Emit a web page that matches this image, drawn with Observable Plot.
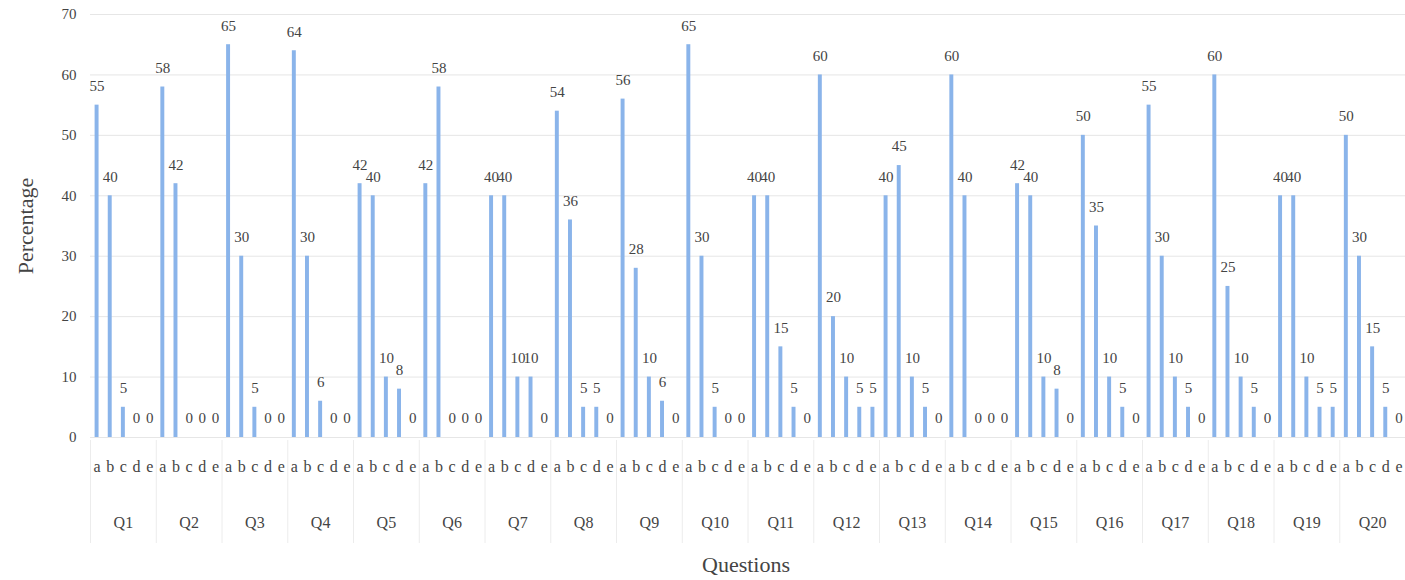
<!DOCTYPE html>
<html>
<head>
<meta charset="utf-8">
<script src="https://cdn.jsdelivr.net/npm/d3@7"></script>
<script src="https://cdn.jsdelivr.net/npm/@observablehq/plot@0.6"></script>
<style>
  html, body { margin: 0; padding: 0; background: #fff; overflow: hidden; }
  #chart { width: 1405px; height: 580px; }
  #chart svg { font-family: 'Liberation Serif', 'Times New Roman', serif; }
</style>
</head>
<body>
<div id="chart"></div>
<script>
const questions = ["Q1","Q2","Q3","Q4","Q5","Q6","Q7","Q8","Q9","Q10","Q11","Q12","Q13","Q14","Q15","Q16","Q17","Q18","Q19","Q20"];
const options = ["a","b","c","d","e"];
const valuesA = [55,58,65,64,42,42,40,54,56,65,40,60,40,60,42,50,55,60,40,50];
const valuesB = [40,42,30,30,40,58,40,36,28,30,40,20,45,40,40,35,30,25,40,30];
const valuesC = [5,0,5,6,10,0,10,5,10,5,15,10,10,0,10,10,10,10,10,15];
const valuesD = [0,0,0,0,8,0,10,5,6,0,5,5,5,0,8,5,5,5,5,5];
const valuesE = [0,0,0,0,0,0,0,0,0,0,0,5,0,0,0,0,0,0,5,0];
const yTicks = [0,10,20,30,40,50,60,70];

const series = [valuesA, valuesB, valuesC, valuesD, valuesE];
const key = (q, o) => q + "·" + o;
const data = [];
questions.forEach((q, i) => {
  options.forEach((o, j) => {
    data.push({q, o, k: key(q, o), v: series[j][i]});
  });
});
const domainX = data.map(d => d.k);

const W = 1405, H = 580;
const mL = 90, mR = 0, mT = 14, mB = 143;
const step = (W - mL - mR) / domainX.length;
const font = "'Liberation Serif', 'Times New Roman', serif";
const textColor = "#444";

const chart = Plot.plot({
  width: W,
  height: H,
  marginLeft: mL,
  marginRight: mR,
  marginTop: mT,
  marginBottom: mB,
  style: {fontFamily: font, fontSize: "15px", color: textColor, background: "#fff"},
  x: {domain: domainX, padding: 0, round: false, axis: null},
  y: {domain: [0, 70], ticks: yTicks, axis: null},
  marks: [
    Plot.gridY(yTicks, {stroke: "#e6e6e6", strokeOpacity: 1}),
    Plot.axisY(yTicks, {tickSize: 0, tickPadding: 14, fontSize: 15, fontFamily: font, fill: textColor, label: null}),
    Plot.text(["Percentage"], {frameAnchor: "left", textAnchor: "middle", dx: -65, rotate: -90, fontSize: 22, fontFamily: font, fill: textColor}),
    Plot.barY(data, {x: "k", y: "v", fill: "#8ab4ea", insetLeft: 4.6, insetRight: 4.6}),
    Plot.text(data, {x: "k", y: "v", text: d => String(d.v), dy: -19, fontSize: 15, fontFamily: font, fill: textColor}),
    Plot.axisX({tickSize: 0, tickPadding: 0, dy: 23, fontSize: 16, fontFamily: font, fill: textColor, tickFormat: k => k.split("·")[1], label: null}),
    Plot.text(questions, {x: q => key(q, "c"), frameAnchor: "bottom", dy: 90, fontSize: 16, fontFamily: font, fill: textColor}),
    Plot.ruleX(questions, {x: q => key(q, "a"), dx: -step / 2, stroke: "#ececec", insetTop: 426, insetBottom: -106}),
    Plot.text(["Questions"], {frameAnchor: "bottom", dx: -2, dy: 134, fontSize: 22, fontFamily: font, fill: textColor})
  ]
});
document.getElementById("chart").appendChild(chart);
</script>
</body>
</html>
